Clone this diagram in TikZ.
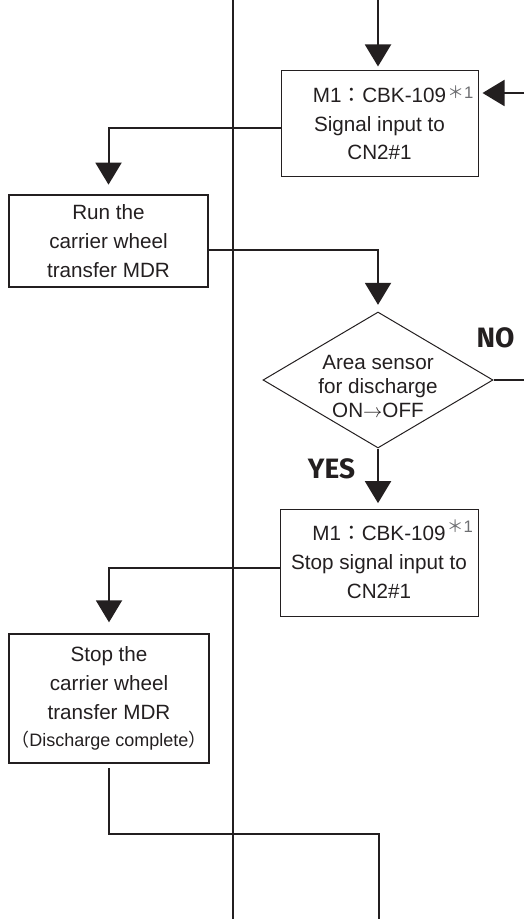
\documentclass[tikz,border=0pt]{standalone}
\usepackage{fontspec}
\setmainfont{Liberation Sans}
\newfontfamily\cjkfont{Noto Sans CJK JP}
\newfontfamily\answerfont{Fira Sans}
\usetikzlibrary{arrows.meta,shapes.geometric}
\definecolor{flowink}{HTML}{231F20}
\definecolor{noteink}{HTML}{6D6E71}
\newcommand{\stepfont}{\fontsize{15.5}{21.5}\selectfont}
\newcommand{\fwcolon}{{\cjkfont ：}}
\newcommand{\footmark}[1]{\rlap{\raisebox{#1}[0pt][0pt]{\fontsize{12.5}{12.5}\selectfont\color{noteink}\hspace{1pt}{\cjkfont ＊}1}}}

\begin{document}
\begin{tikzpicture}[
  x=0.75pt,
  y=-0.75pt,
  every node/.style={font=\stepfont, flowink},
  line/.style={flowink, line width=1.5pt},
  flow/.style={line, -{Triangle[length=16.5pt, width=19.5pt]}, shorten >=3pt},
  stepbox/.style={draw=flowink, line width=0.75pt, align=center, inner sep=0pt},
  heavybox/.style={stepbox, line width=1.5pt},
  decision/.style={diamond, draw=flowink, line width=0.75pt, inner sep=0pt,
                   minimum width=172.5pt, minimum height=102pt},
  answer/.style={font=\answerfont\bfseries\fontsize{21}{21}\selectfont}
]
  \useasboundingbox (0,0) rectangle (524,919);

  % ---- the lane divider ----
  \coordinate (lanetop) at (233,0);
  \coordinate (lanebot) at (233,919);
  \draw[line] (lanetop) -- (lanebot);

  % ---- the steps ----
  \node[stepbox, minimum width=147.75pt, minimum height=79.5pt] (sigin) at (379.5,124)
    {M1\fwcolon CBK-109\footmark{3pt}\\Signal input to\\CN2\#1};
  \node[heavybox, minimum width=149.25pt, minimum height=69pt] (runmdr) at (108.5,241)
    {Run the\\carrier wheel\\transfer MDR};
  \node[decision] (sensor) at (378,380) {};
  \node[align=center, font=\fontsize{15.5}{18}\selectfont] (sensortext) at (378,386)
    {Area sensor\\for discharge\\ON$\rightarrow$OFF};
  \node[stepbox, minimum width=148.5pt, minimum height=80.25pt] (stopsig) at (379,562.5)
    {M1\fwcolon CBK-109\footmark{6pt}\\Stop signal input to\\CN2\#1};
  \node[heavybox, minimum width=150pt, minimum height=96.75pt] (stopmdr) at (109,698.5)
    {Stop the\\carrier wheel\\transfer MDR\\[-1pt]
     {\fontsize{13.5}{14}\selectfont{\cjkfont （}Discharge complete{\cjkfont ）}}};

  % ---- branch labels ----
  \node[answer, anchor=base] (nolbl)  at (495.5,347) {NO};
  \node[answer, anchor=base] (yeslbl) at (331.5,478) {YES};

  % ---- free ends of the connectors ----
  \coordinate (topin)  at (378,0);
  \coordinate (loopin) at (524,93);
  \coordinate (noout)  at (524,380);
  \coordinate (exitpt) at (379,919);

  % ---- connectors ----
  \draw[flow] (topin) -- (topin |- sigin.north);
  \draw[flow] (loopin) -- (loopin -| sigin.east);
  \draw[flow, shorten >=7pt] ([yshift=-3pt]sigin.west) -| (runmdr.north);
  \draw[flow, shorten >=5pt] ([yshift=-6.75pt]runmdr.east) -| (sensor.north);
  \draw[line] (sensor.east) -- (noout);
  \draw[flow, shorten >=4pt] (sensor.south) -- (sensor.south |- stopsig.north);
  \draw[flow, shorten >=8pt] ([yshift=-4pt]stopsig.west) -| (stopmdr.north);
  \draw[line] ([yshift=-3pt]stopmdr.south) -- ++(0,66) -| (exitpt);
\end{tikzpicture}
\end{document}
